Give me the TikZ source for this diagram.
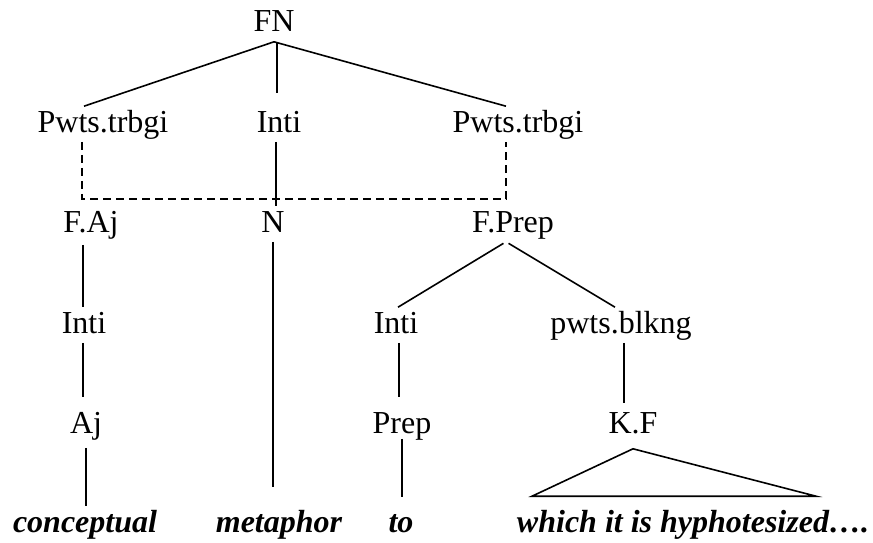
\documentclass[tikz,border=0pt]{standalone}
\usepackage{fontspec}
\setmainfont{Liberation Serif}
\usepackage{tikz}

\begin{document}
\begin{tikzpicture}[x=1pt,y=-1pt,line width=1.6pt,
    lbl/.style={anchor=base,inner sep=0pt,text height=25pt,text depth=9pt,
        font=\fontsize{32}{38}\selectfont},
    word/.style={lbl,font=\fontsize{32}{38}\selectfont\bfseries\itshape},
    link/.style={dash pattern=on 8pt off 5pt}]
    \useasboundingbox (0,0) rectangle (873,543);
    \node[lbl] (fn) at (274,32) {FN};
    \node[lbl] (pl) at (103,132) {Pwts.trbgi};
    \node[lbl] (inti) at (279,132) {Inti};
    \node[lbl] (pr) at (518,132) {Pwts.trbgi};
    \node[lbl] (faj) at (91,232) {F.Aj};
    \node[lbl] (n) at (273,232) {N};
    \node[lbl] (fprep) at (513,232) {F.Prep};
    \node[lbl] (intiaj) at (84,333) {Inti};
    \node[lbl] (intiprep) at (396,333) {Inti};
    \node[lbl] (blkng) at (621,333) {pwts.blkng};
    \node[lbl] (aj) at (86,433) {Aj};
    \node[lbl] (prep) at (402,433) {Prep};
    \node[lbl] (kf) at (633,433) {K.F};
    \node[word] (concept) at (85,532) {conceptual};
    \node[word] (metaphor) at (279,532) {metaphor};
    \node[word] (to) at (401,532) {to};
    \node[word] (which) at (693,532) {which it is hyphotesized….};
    \coordinate (tl) at ([xshift=-161pt,yshift=10pt]which.north);
    \coordinate (tr) at ([xshift=123pt,yshift=10pt]which.north);

    \draw (fn.south) -- ([xshift=-19pt]pl.north);
    \draw[shorten >=13pt] ([xshift=3pt]fn.south) -- ([xshift=-2pt]inti.north);
    \draw (fn.south) -- ([xshift=-12pt]pr.north);
    \draw[link] ([xshift=-21pt]pl.south) -- ++(0,57) -| ([xshift=-12pt]pr.south);
    \draw ([xshift=-3pt]inti.south) -- ([xshift=-3pt]inti.south |- n.north);
    \draw[shorten <=3pt] ([xshift=-8pt]faj.south) -- ([xshift=-1pt]intiaj.north);
    \draw[shorten >=19pt] (n.south) -- (n.south |- metaphor.north);
    \draw[shorten <=3pt] ([xshift=-7pt]fprep.south) -- ([xshift=2pt]intiprep.north);
    \draw[shorten <=3pt] ([xshift=-7pt]fprep.south) -- ([xshift=-6pt]blkng.north);
    \draw[shorten >=10pt] ([xshift=-1pt]intiaj.south) -- ([xshift=-1pt]intiaj.south |- aj.north);
    \draw[shorten >=10pt] ([xshift=3pt]intiprep.south) -- ([xshift=3pt]intiprep.south |- prep.north);
    \draw[shorten >=4pt] ([xshift=3pt]blkng.south) -- ([xshift=3pt]blkng.south |- kf.north);
    \draw[shorten <=5pt] (aj.south) -- (aj.south |- concept.north);
    \draw[shorten >=9pt,shorten <=-4pt] (prep.south) -- (prep.south |- to.north);
    \draw ([yshift=-6pt]kf.south) -- (tr) -- (tl) -- cycle;
\end{tikzpicture}
\end{document}
